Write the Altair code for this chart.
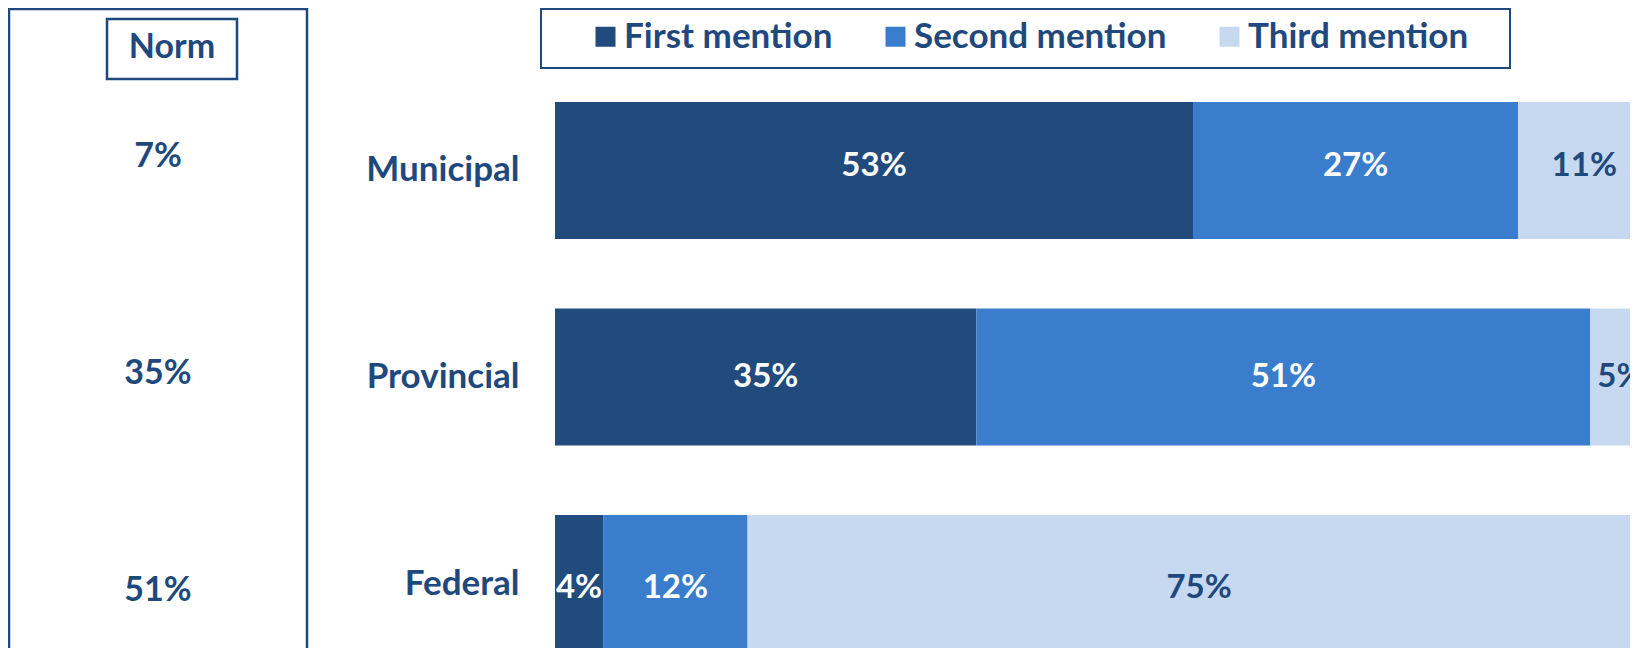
import altair as alt
import pandas as pd

categories = ["Municipal", "Provincial", "Federal"]
series = ["First mention", "Second mention", "Third mention"]
first_mention = [53, 35, 4]
second_mention = [27, 51, 12]
third_mention = [11, 5, 75]
norm_values = [7, 35, 51]

colors = ["#214A7D", "#3A7DCC", "#C6D9F0"]
dark = "#1F497D"

rows = []
for i, cat in enumerate(categories):
    vals = [first_mention[i], second_mention[i], third_mention[i]]
    start = 0
    for s, v in zip(series, vals):
        rows.append({"category": cat, "series": s, "value": v,
                     "x0": start, "x1": start + v, "mid": start + v / 2,
                     "label": f"{v}%"})
        start += v
df = pd.DataFrame(rows)
norm_df = pd.DataFrame({"category": categories,
                        "label": [f"{v}%" for v in norm_values]})

yscale = alt.Scale(domain=categories, range=[0, 634], paddingInner=0.3366, paddingOuter=0.2034)
norm_scale = alt.Scale(type="point", domain=categories, range=[97, 531], padding=0)
xscale = alt.Scale(domain=[0, 89.3], nice=False, zero=True)

base = alt.Chart(df)

bars = base.mark_bar(clip=True).encode(
    y=alt.Y("category:N", scale=yscale, sort=categories,
            axis=alt.Axis(title=None, labelFontSize=35, labelFontWeight="bold",
                          labelColor=dark, labelPadding=36, ticks=False,
                          domain=False, grid=False, labelFont="Lato")),
    x=alt.X("x0:Q", scale=xscale, axis=None),
    x2="x1:Q",
    color=alt.Color("series:N", scale=alt.Scale(domain=series, range=colors),
                    legend=alt.Legend(title=None, orient="none", legendX=33, legendY=-41,
                                      direction="horizontal", symbolType="square",
                                      symbolSize=400, symbolStrokeWidth=0,
                                      symbolOpacity=1, labelFont="Lato",
                                      labelFontWeight="bold", labelFontSize=35,
                                      labelColor=dark, columnPadding=45,
                                      labelOffset=1, padding=0, labelLimit=400)),
)

white_labels = base.transform_filter(
    alt.FieldOneOfPredicate(field="series", oneOf=series[:2])
).mark_text(color="white", fontSize=33, fontWeight="bold", font="Lato").encode(
    y=alt.Y("category:N", scale=yscale, sort=categories, axis=None),
    x=alt.X("mid:Q", scale=xscale, axis=None),
    text="label:N",
)

dark_labels = base.transform_filter(
    alt.FieldEqualPredicate(field="series", equal=series[2])
).mark_text(color=dark, fontSize=33, fontWeight="bold", font="Lato").encode(
    y=alt.Y("category:N", scale=yscale, sort=categories, axis=None),
    x=alt.X("mid:Q", scale=xscale, axis=None),
    text="label:N",
)

norm_text = alt.Chart(norm_df).mark_text(color=dark, fontSize=34, fontWeight="bold",
                                         font="Lato").encode(
    y=alt.Y("category:N", scale=norm_scale, sort=categories, axis=None),
    x=alt.value(-397),
    text="label:N",
)

one = alt.Data(values=[{"a": 1}])

left_box = alt.Chart(one).mark_rect(fill="transparent", stroke=dark, strokeWidth=2.5).encode(
    x=alt.value(-546), x2=alt.value(-248), y=alt.value(-51), y2=alt.value(700)
)
norm_box = alt.Chart(one).mark_rect(fill="transparent", stroke=dark, strokeWidth=2.5).encode(
    x=alt.value(-448), x2=alt.value(-318), y=alt.value(-41), y2=alt.value(19)
)
norm_title = alt.Chart(one).mark_text(text="Norm", color=dark, fontSize=34,
                                      fontWeight="bold", font="Lato").encode(
    x=alt.value(-383), y=alt.value(-12)
)
legend_box = alt.Chart(one).mark_rect(fill="transparent", stroke=dark, strokeWidth=2).encode(
    x=alt.value(-14), x2=alt.value(955), y=alt.value(-51), y2=alt.value(8)
)

chart = alt.layer(
    left_box, norm_box, norm_title, legend_box, bars, white_labels, dark_labels, norm_text
).resolve_scale(y="independent").properties(
    width=1075, height=588,
    autosize=alt.AutoSizeParams(type="none"),
    padding={"left": 547, "top": 52, "right": 0, "bottom": 0},
).configure(font="Lato", background="white").configure_view(
    stroke=None).configure_axis(grid=False, domain=False, ticks=False)

chart.save("out.html", embed_options={"renderer": "svg", "actions": False})
